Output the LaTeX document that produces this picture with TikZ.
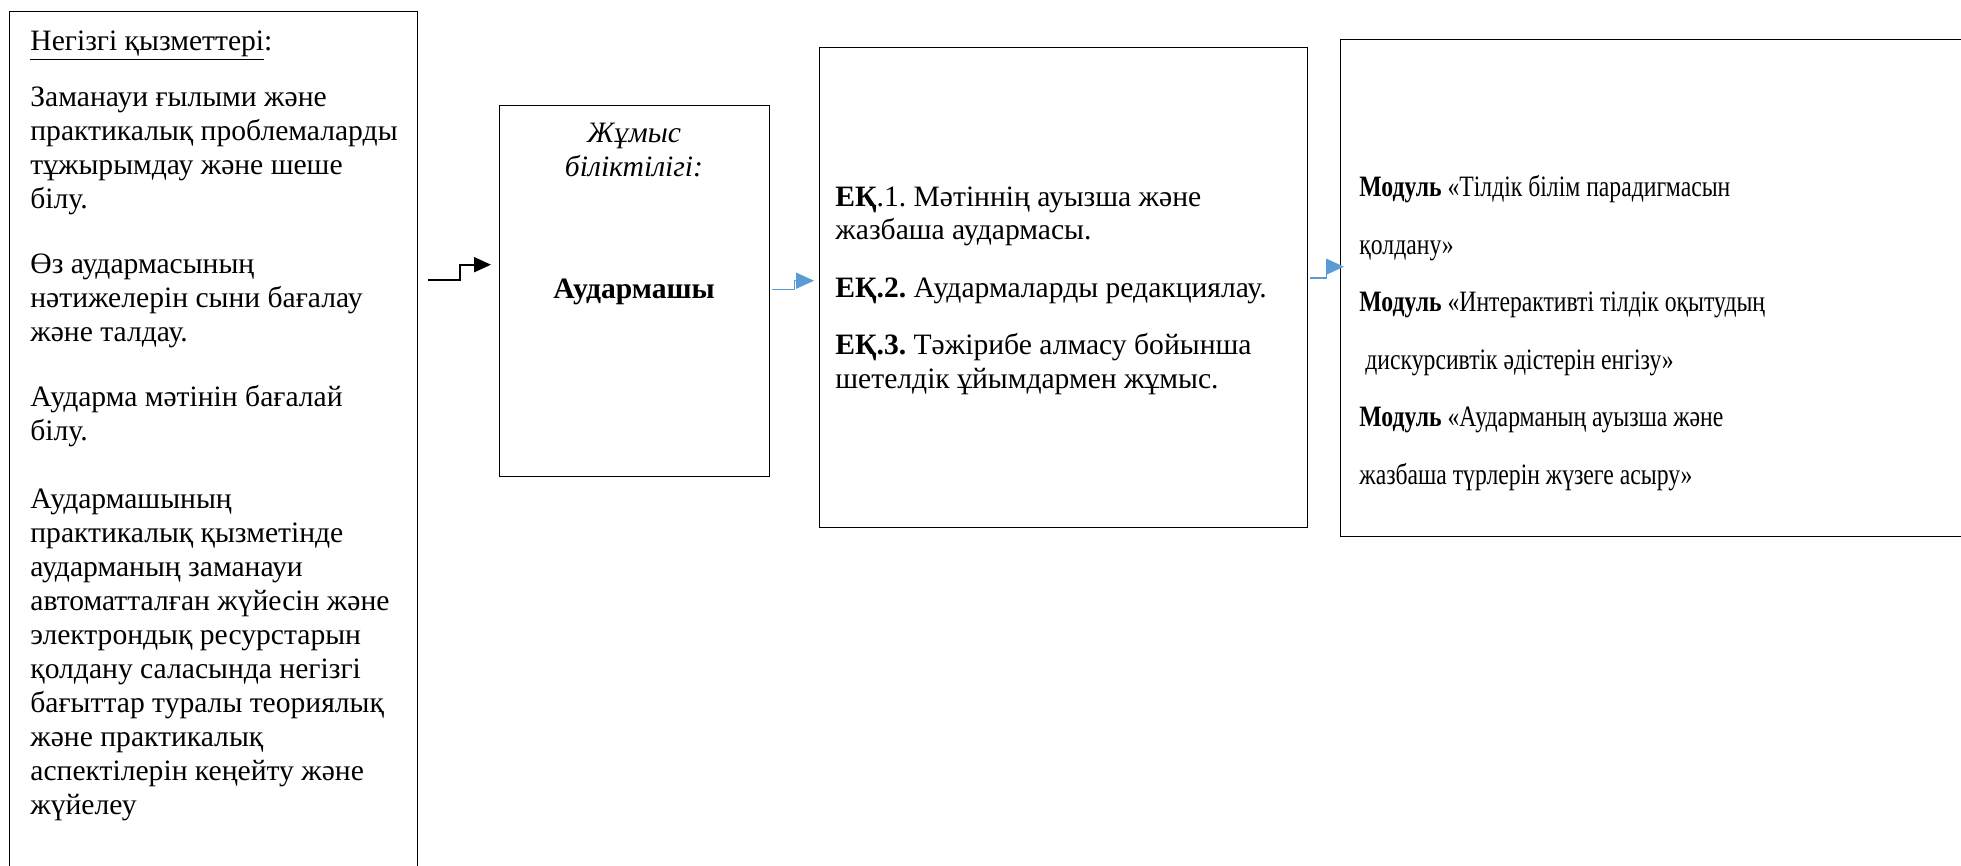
\documentclass[tikz,border=0pt]{standalone}
\usepackage{fontspec}
\setmainfont{Liberation Serif}
\newfontfamily\narrowserif[FakeStretch=0.8]{Liberation Serif}
\usetikzlibrary{arrows.meta, positioning}
\definecolor{linkblue}{RGB}{91,155,213}
\frenchspacing
\tikzset{
    box/.style={draw, rectangle, line width=0.7pt, anchor=north west, inner sep=0pt},
    txt/.style={anchor=base west, align=left, inner sep=0pt, font=\fontsize{14.8pt}{17pt}\selectfont},
    arrow/.style={line width=1pt, -{Triangle[length=8.5pt, width=7.5pt]}},
    bluearrow/.style={draw=linkblue, line width=0.8pt, -{Triangle[length=9pt, width=8pt]}}
}

\begin{document}
\begin{tikzpicture}[x=0.5pt, y=-0.5pt]
\clip (0,0) rectangle (1961,866);
\node[box, minimum width=204pt, minimum height=450pt] (duties) at (9,11) {};
\node[box, minimum width=135pt, minimum height=185.5pt] (role) at (499,105) {};
\node[box, minimum width=244pt, minimum height=240pt] (skills) at (819,47) {};
\node[box, minimum width=340pt, minimum height=248.5pt] (modules) at (1340,39) {};

\node[txt] (dutiestxt) at (30,814) {\underline{Негізгі қызметтері}:\\[11pt]
Заманауи ғылыми және\\практикалық проблемаларды\\тұжырымдау және шеше\\білу.\\[15.5pt]
Өз аудармасының\\нәтижелерін сыни бағалау\\және талдау.\\[15.5pt]
Аударма мәтінін бағалай\\білу.\\[17pt]
Аудармашының\\практикалық қызметінде\\аударманың заманауи\\автоматталған жүйесін және\\электрондық ресурстарын\\қолдану саласында негізгі\\бағыттар туралы теориялық\\және практикалық\\аспектілерін кеңейту және\\жүйелеу};
\node[txt, anchor=base, align=center] (roletxt) at (634,177) {\textit{Жұмыс}\\\textit{біліктілігі:}};
\node[txt, anchor=base, align=center] (rolename) at (634,299) {\textbf{Аудармашы}};
\node[txt] (skillstxt) at (835,388) {\textbf{ЕҚ}.1. Мәтіннің ауызша және\\жазбаша аудармасы.\\[11.5pt]
\textbf{ЕҚ.2.} Аудармаларды редакциялау.\\[11.5pt]
\textbf{ЕҚ.3.} Тәжірибе алмасу бойынша\\шетелдік ұйымдармен жұмыс.};
\node[txt, font=\narrowserif\fontsize{14.8pt}{28.75pt}\selectfont] (modulestxt) at (1359,484) {\textbf{Модуль} «Тілдік білім парадигмасын\\қолдану»\\
\textbf{Модуль} «Интерактивті тілдік оқытудың\\\hspace{3pt}дискурсивтік әдістерін енгізу»\\
\textbf{Модуль} «Аударманың ауызша және\\жазбаша түрлерін жүзеге асыру»};

\coordinate (start) at (428,280);
\draw[arrow] (start) -- ++(32,0) |- ([shift={(-8,-26.5)}]role.west);
\draw[bluearrow] ([shift={(2,-1.5)}]role.east) -- ++(22,0) |- ([shift={(-5,-7)}]skills.west);
\draw[bluearrow] ([shift={(2,-9.5)}]skills.east) -- ++(16,0) |- ([shift={(4,-21.5)}]modules.west);
\end{tikzpicture}
\end{document}
